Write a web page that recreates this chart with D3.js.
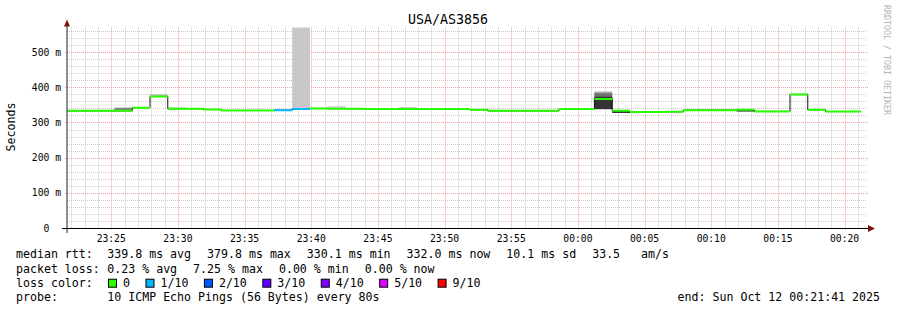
<!DOCTYPE html>
<html>
<head>
<meta charset="utf-8">
<script src="https://cdn.jsdelivr.net/npm/d3@7"></script>
<style>
body { margin: 0; background: #fff; }
svg text { font-family: "DejaVu Sans Mono", monospace; fill: #000; white-space: pre; }
</style>
</head>
<body>
<script>
var w = 897, h = 310;
var plot = {left: 67, right: 867, top: 27.5, bottom: 228};

// time window and samples (one every 80s)
var startTime = new Date("2025-10-11T23:21:41Z");
var endTime = new Date("2025-10-12T00:21:41Z");
var firstSample = new Date("2025-10-11T23:21:14.5Z");
var stepSec = 80;

// median rtt per sample, ms
var rtt = [333, 333, 333, 333, 342, 374, 339, 339, 337, 334,
           334, 334, 335, 338.6, 340, 339, 339, 338.6, 338.6, 338,
           338, 338, 338, 336, 333, 333, 333, 333, 338, 338,
           367, 333, 330.1, 330.1, 330.5, 335, 335, 335, 336, 331.5,
           331.5, 379.8, 336, 331, 331];
// lost pings out of 10 per sample
var loss = [0, 0, 0, 0, 0, 0, 0, 0, 0, 0,
            0, 0, 1, 1, 0, 0, 0, 0, 0, 0,
            0, 0, 0, 0, 0, 0, 0, 0, 0, 0,
            0, 0, 0, 0, 0, 0, 0, 0, 0, 0,
            0, 0, 0, 0, 0];

// smoke bands (sample index, low ms, high ms, shade)
var smokeSlot  = [2, 3, 5, 6, 13, 15, 19, 30, 30, 30, 31, 38];
var smokeLo    = [333, 333, 374, 339, 338, 339, 338, 338, 338, 338, 327, 331];
var smokeHi    = [336, 342, 381, 343, 620, 346, 344, 388, 383, 373, 333, 336];
var smokeShade = ["#c8c8c8", "#808080", "#c8c8c8", "#c8c8c8", "#c8c8c8", "#c8c8c8",
                  "#c8c8c8", "#aaaaaa", "#6e6e6e", "#333333", "#333333", "#333333"];

var lossLevels = [0, 1, 2, 3, 4, 5, 9];
var lossLabels = ["0", "1/10", "2/10", "3/10", "4/10", "5/10", "9/10"];
var lossColors = ["#26ff00", "#00b8ff", "#0059ff", "#5e00ff", "#7e00ff", "#dd00ff", "#ff0000"];

var yTicks = [0, 100, 200, 300, 400, 500];
var rttStats = ["339.8 ms avg", "379.8 ms max", "330.1 ms min", "332.0 ms now", "10.1 ms sd", "33.5   am/s"];
var lossStats = ["0.23 % avg", "7.25 % max", "0.00 % min", "0.00 % now"];

var svg = d3.select("body").append("svg")
    .attr("width", w)
    .attr("height", h);

svg.append("rect").attr("width", w).attr("height", h).attr("fill", "#fff");

var x = d3.scaleUtc().domain([startTime, endTime]).range([plot.left, plot.right]);
var y = d3.scaleLinear().domain([0, 570]).range([plot.bottom, plot.top]);

// grid
var grid = svg.append("g");
var minorY = d3.range(0, 570, 20).filter(function(v) { return v % 100 != 0; });
grid.selectAll(".hmin").data(minorY).enter().append("line")
    .attr("x1", plot.left).attr("x2", plot.right)
    .attr("y1", function(d) { return Math.round(y(d)) + 0.5; })
    .attr("y2", function(d) { return Math.round(y(d)) + 0.5; })
    .attr("stroke", "#c9c9c9").attr("stroke-dasharray", "1,1");

var minutes = d3.utcMinute.range(startTime, endTime).filter(function(d) { return d.getUTCMinutes() % 5 != 0; });
grid.selectAll(".vmin").data(minutes).enter().append("line")
    .attr("x1", function(d) { return Math.round(x(d)) + 0.5; })
    .attr("x2", function(d) { return Math.round(x(d)) + 0.5; })
    .attr("y1", plot.top).attr("y2", plot.bottom)
    .attr("stroke", "#c9c9c9").attr("stroke-dasharray", "1,1");

grid.selectAll(".hmaj").data(yTicks.slice(1)).enter().append("line")
    .attr("x1", plot.left - 2).attr("x2", plot.right + 2)
    .attr("y1", function(d) { return Math.round(y(d)) + 0.5; })
    .attr("y2", function(d) { return Math.round(y(d)) + 0.5; })
    .attr("stroke", "#f0a0a0").attr("stroke-dasharray", "1,1");

var fiveMin = d3.utcMinute.every(5).range(startTime, endTime);
grid.selectAll(".vmaj").data(fiveMin).enter().append("line")
    .attr("x1", function(d) { return Math.round(x(d)) + 0.5; })
    .attr("x2", function(d) { return Math.round(x(d)) + 0.5; })
    .attr("y1", plot.top).attr("y2", plot.bottom + 2)
    .attr("stroke", "#f0a0a0").attr("stroke-dasharray", "1,1");

// data
svg.append("clipPath").attr("id", "clip").append("rect")
    .attr("x", plot.left).attr("y", plot.top)
    .attr("width", plot.right - plot.left).attr("height", plot.bottom - plot.top);

var samples = rtt.map(function(v, i) {
  return {
    t0: new Date(firstSample.getTime() + i * stepSec * 1000),
    t1: new Date(firstSample.getTime() + (i + 1) * stepSec * 1000),
    v: v,
    loss: loss[i]
  };
});

var data = svg.append("g").attr("clip-path", "url(#clip)");

// smoke
data.selectAll(".smoke").data(smokeSlot).enter().append("rect")
    .attr("x", function(d) { return x(samples[d].t0); })
    .attr("width", function(d) { return x(samples[d].t1) - x(samples[d].t0); })
    .attr("y", function(d, i) { return y(smokeHi[i]); })
    .attr("height", function(d, i) { return y(smokeLo[i]) - y(smokeHi[i]); })
    .attr("fill", function(d, i) { return smokeShade[i]; });

// black step line under median
var stepPts = samples.map(function(d) { return [x(d.t0), y(d.v)]; });
stepPts.push([x(samples[samples.length - 1].t1), y(samples[samples.length - 1].v)]);
data.append("path")
    .attr("d", d3.line().curve(d3.curveStepAfter)(stepPts))
    .attr("fill", "none")
    .attr("stroke", "#111")
    .attr("stroke-width", 1);

function lossColor(n) {
  var c = lossColors[0];
  lossLevels.forEach(function(l, i) { if (n >= l) c = lossColors[i]; });
  return c;
}

// median coloured by loss
data.selectAll(".median").data(samples).enter().append("line")
    .attr("x1", function(d) { return x(d.t0); })
    .attr("x2", function(d) { return x(d.t1); })
    .attr("y1", function(d) { return y(d.v); })
    .attr("y2", function(d) { return y(d.v); })
    .attr("stroke", function(d) { return lossColor(d.loss); })
    .attr("stroke-width", 2);

// axes
svg.append("line")
    .attr("x1", plot.left).attr("x2", plot.left)
    .attr("y1", plot.bottom + 5).attr("y2", plot.top - 2)
    .attr("stroke", "#222");
svg.append("path")
    .attr("d", "M" + (plot.left - 3) + "," + (plot.top - 1) + "L" + plot.left + "," + (plot.top - 8) + "L" + (plot.left + 3) + "," + (plot.top - 1) + "Z")
    .attr("fill", "#7f1010");

svg.append("line")
    .attr("x1", plot.left - 5).attr("x2", plot.right + 2)
    .attr("y1", plot.bottom + 0.5).attr("y2", plot.bottom + 0.5)
    .attr("stroke", "#000");
svg.append("path")
    .attr("d", "M" + (plot.right + 1) + "," + (plot.bottom - 3) + "L" + (plot.right + 8) + "," + (plot.bottom + 0.5) + "L" + (plot.right + 1) + "," + (plot.bottom + 4) + "Z")
    .attr("fill", "#7f1010");

// tick labels
svg.append("g").selectAll("text").data(fiveMin).enter().append("text")
    .attr("x", function(d) { return x(d); })
    .attr("y", 241.5)
    .attr("text-anchor", "middle")
    .style("font-size", "9.7px")
    .text(d3.utcFormat("%H:%M"));

svg.append("g").selectAll("text").data(yTicks).enter().append("text")
    .attr("x", 61)
    .attr("y", function(d) { return y(d) + 3.5; })
    .attr("text-anchor", "end")
    .style("font-size", "9.7px")
    .text(function(d) { return d == 0 ? "0  " : d + " m"; });

// title, unit, watermark
svg.append("text")
    .attr("x", 448).attr("y", 24)
    .attr("text-anchor", "middle")
    .style("font-size", "13.3px")
    .text("USA/AS3856");

svg.append("text")
    .attr("transform", "translate(15,127) rotate(-90)")
    .attr("text-anchor", "middle")
    .style("font-size", "11.6px")
    .text("Seconds");

svg.append("text")
    .attr("transform", "translate(884,5) rotate(90)")
    .style("font-size", "8.3px")
    .style("fill", "#b4b4b4")
    .text("RRDTOOL / TOBI OETIKER");

// legend
var legend = svg.append("g").style("font-size", "11.6px");
var rows = [258.3, 272.5, 286.7, 300.9];
var valueX = 107.3;

function statRow(label, items, yy) {
  legend.append("text").attr("x", 16).attr("y", yy).text(label);
  var xx = valueX;
  items.forEach(function(s) {
    var t = legend.append("text").attr("x", xx).attr("y", yy).text(s);
    xx += t.node().getComputedTextLength() + 16;
  });
}
statRow("median rtt:", rttStats, rows[0]);
statRow("packet loss:", lossStats, rows[1]);

legend.append("text").attr("x", 16).attr("y", rows[2]).text("loss color:");
var sx = 108;
lossLabels.forEach(function(l, i) {
  legend.append("rect")
      .attr("x", sx + 0.5).attr("y", rows[2] - 7.5)
      .attr("width", 8).attr("height", 8)
      .attr("fill", lossColors[i]).attr("stroke", "#000");
  var t = legend.append("text").attr("x", sx + 15).attr("y", rows[2]).text(l);
  sx += 15 + t.node().getComputedTextLength() + 15.5;
});

legend.append("text").attr("x", 16).attr("y", rows[3]).text("probe:");
legend.append("text").attr("x", valueX).attr("y", rows[3]).text("10 ICMP Echo Pings (56 Bytes) every 80s");
legend.append("text").attr("x", 880).attr("y", rows[3]).attr("text-anchor", "end").text("end: Sun Oct 12 00:21:41 2025");
</script>
</body>
</html>
